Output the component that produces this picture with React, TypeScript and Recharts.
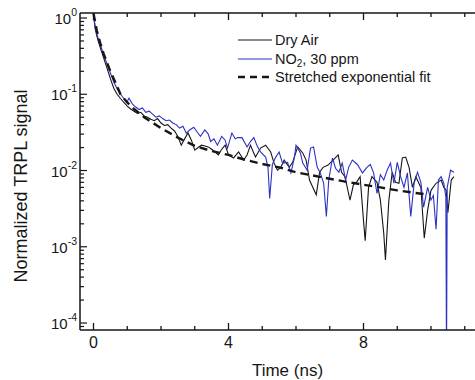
import React from 'react';
import { LineChart, Line, XAxis, YAxis, Legend, Label } from 'recharts';

const FONT = '"Liberation Sans", Arial, Helvetica, sans-serif';

// Dry Air (black), ns / normalized signal
const dryTime = [
    0, 0.05, 0.1, 0.15, 0.2, 0.3, 0.4, 0.5, 0.6, 0.7, 0.8, 0.9, 1.0, 1.1, 1.2, 1.3, 1.4, 1.5, 1.6, 1.7,
    1.8, 1.9, 2.0, 2.1, 2.2, 2.3, 2.4, 2.5, 2.6, 2.7, 2.8, 2.9, 3.0, 3.1, 3.2, 3.3, 3.4, 3.5, 3.6, 3.7,
    3.8, 3.9, 4.0, 4.15, 4.3, 4.45, 4.55, 4.65, 4.8, 4.95, 5.1, 5.25, 5.35, 5.45, 5.55, 5.65, 5.8, 5.9,
    6.05, 6.2, 6.3, 6.4, 6.5, 6.6, 6.7, 6.8, 6.95, 7.1, 7.25, 7.35, 7.45, 7.6, 7.7, 7.8, 7.9, 8.0, 8.05,
    8.15, 8.25, 8.4, 8.5, 8.6, 8.65, 8.75, 8.85, 8.95, 9.05, 9.15, 9.25, 9.35, 9.45, 9.55, 9.7, 9.8, 9.9,
    10.0, 10.15, 10.3, 10.38, 10.45, 10.5, 10.6, 10.68
];
const drySignal = [
    1.15, 0.72, 0.58, 0.48, 0.41, 0.3, 0.22, 0.16, 0.12, 0.1, 0.088, 0.078, 0.07, 0.064, 0.06, 0.056, 0.058, 0.052, 0.05, 0.047,
    0.045, 0.048, 0.042, 0.039, 0.04, 0.036, 0.033, 0.028, 0.0215, 0.026, 0.031, 0.025, 0.0185, 0.02, 0.0215, 0.021, 0.0204, 0.019, 0.0175, 0.016,
    0.019, 0.0215, 0.016, 0.0146, 0.0175, 0.0137, 0.016, 0.0215, 0.015, 0.0197, 0.0215, 0.0175, 0.0125, 0.0101, 0.011, 0.0137, 0.011, 0.0128,
    0.0204, 0.017, 0.0137, 0.0075, 0.006, 0.0048, 0.0095, 0.011, 0.0118, 0.0137, 0.016, 0.0095, 0.0083, 0.0041, 0.0065, 0.0071, 0.0083, 0.0022, 0.0012,
    0.006, 0.0083, 0.007, 0.0041, 0.0015, 0.00067, 0.004, 0.0095, 0.007, 0.0068, 0.0146, 0.015, 0.011, 0.006, 0.0083, 0.006, 0.0013, 0.003,
    0.0055, 0.0068, 0.0075, 0.006, 0.0055, 0.0028, 0.0075, 0.0083
];

// NO2, 30 ppm (blue)
const no2Time = [
    0, 0.05, 0.1, 0.15, 0.2, 0.3, 0.4, 0.5, 0.6, 0.7, 0.8, 0.9, 1.0, 1.05, 1.15, 1.25, 1.35, 1.45, 1.55, 1.65,
    1.75, 1.85, 1.95, 2.05, 2.15, 2.25, 2.35, 2.45, 2.55, 2.65, 2.75, 2.85, 2.97, 3.07, 3.17, 3.3, 3.4, 3.47,
    3.57, 3.67, 3.8, 3.9, 3.97, 4.1, 4.2, 4.27, 4.4, 4.55, 4.65, 4.75, 4.85, 4.95, 5.1, 5.17, 5.22, 5.3, 5.4,
    5.5, 5.6, 5.75, 5.85, 5.95, 6.0, 6.13, 6.2, 6.33, 6.43, 6.52, 6.63, 6.72, 6.82, 6.9, 6.97, 7.08, 7.17, 7.27,
    7.37, 7.47, 7.56, 7.67, 7.82, 7.97, 8.1, 8.2, 8.3, 8.4, 8.5, 8.6, 8.7, 8.8, 8.9, 9.0, 9.1, 9.2, 9.3, 9.4,
    9.5, 9.6, 9.7, 9.78, 9.9, 10.0, 10.07, 10.15, 10.22, 10.3, 10.38, 10.44, 10.46, 10.48, 10.58, 10.68
];
const no2Signal = [
    1.15, 0.75, 0.62, 0.52, 0.45, 0.33, 0.25, 0.19, 0.145, 0.118, 0.1, 0.088, 0.08, 0.089, 0.075, 0.068, 0.063, 0.066, 0.058, 0.06,
    0.055, 0.05, 0.052, 0.048, 0.045, 0.046, 0.042, 0.04, 0.036, 0.038, 0.031, 0.034, 0.037, 0.032, 0.028, 0.034, 0.03, 0.024,
    0.026, 0.0215, 0.028, 0.025, 0.0197, 0.031, 0.026, 0.027, 0.027, 0.0204, 0.024, 0.027, 0.021, 0.0175, 0.015, 0.011, 0.0043, 0.012, 0.015,
    0.0175, 0.0125, 0.0128, 0.0093, 0.0146, 0.0215, 0.017, 0.0125, 0.0101, 0.0197, 0.0204, 0.011, 0.0093, 0.0068, 0.0025, 0.0075, 0.0146, 0.0107, 0.0095,
    0.0125, 0.0075, 0.011, 0.0137, 0.012, 0.0093, 0.011, 0.012, 0.0093, 0.005, 0.0088, 0.0075, 0.0101, 0.0125, 0.0068, 0.0128, 0.0083, 0.006, 0.0093, 0.0025,
    0.0068, 0.0095, 0.007, 0.0033, 0.006, 0.0041, 0.0047, 0.0017, 0.0075, 0.0083, 0.0068, 0.0045, 0.00003, 0.006, 0.0101, 0.0095
];

// stretched exponential fit (dashed)
const fitTime = [0, 0.1, 0.2, 0.3, 0.4, 0.5, 0.6, 0.8, 1.0, 1.2, 1.5, 2.0, 2.5, 3.0, 3.5, 4.0, 4.5, 5.0, 5.5, 6.0, 6.5, 7.0, 7.5, 8.0, 8.5, 9.0, 9.5, 9.8];
const fitSignal = [1.15, 0.68, 0.47, 0.34, 0.26, 0.2, 0.16, 0.1, 0.078, 0.064, 0.05, 0.036, 0.027, 0.021, 0.018, 0.016, 0.0138, 0.0122, 0.011, 0.0095, 0.0086, 0.0078, 0.0071, 0.0065, 0.006, 0.0055, 0.0051, 0.0049];

const xTicks = [0, 1, 2, 3, 4, 5, 6, 7, 8, 9, 10, 11];
const xLabels = [0, 4, 8];
const yMajor = [1e-4, 1e-3, 1e-2, 1e-1, 1];
const yTicks = [9e-5];
yMajor.slice(0, 4).forEach((d) => {
    for (let k = 1; k <= 9; k++) yTicks.push(k * d);
});
yTicks.push(1);

const toPoints = (ts: number[], vs: number[]) => ts.map((t, i) => ({ t, v: vs[i] }));
const dryData = toPoints(dryTime, drySignal);
const no2Data = toPoints(no2Time, no2Signal);
const fitData = toPoints(fitTime, fitSignal);

const INK = '#161616';
const BLUE = '#2b32c4';

const BottomTick = (props: any) => {
    const { x, y, payload } = props;
    const major = xLabels.includes(payload.value);
    return (
        <g>
            <line x1={x} x2={x} y1={y} y2={y - (major ? 7 : 4)} stroke={INK} strokeWidth={1.3} />
            {major && (
                <text x={x} y={y + 18} textAnchor="middle" fontSize={16} fontFamily={FONT} fill={INK}>
                    {payload.value}
                </text>
            )}
        </g>
    );
};

const TopTick = (props: any) => {
    const { x, y, payload } = props;
    const major = xLabels.includes(payload.value);
    return <line x1={x} x2={x} y1={y} y2={y + (major ? 7 : 4)} stroke={INK} strokeWidth={1.3} />;
};

const LeftTick = (props: any) => {
    const { x, y, payload } = props;
    const lg = Math.log10(payload.value);
    const e = Math.round(lg);
    const major = Math.abs(lg - e) < 1e-6;
    return (
        <g>
            <line x1={x} x2={x + (major ? 7 : 4)} y1={y} y2={y} stroke={INK} strokeWidth={1.2} />
            {major && (
                <text x={x - 3} y={y + 6} textAnchor="end" fontSize={15} fontFamily={FONT} fill={INK}>
                    10
                    <tspan dy={-8} fontSize={10.5}>{e}</tspan>
                </text>
            )}
        </g>
    );
};

const legendItems = [
    { label: <>Dry Air</>, color: INK, dash: '', width: 1.2 },
    { label: <>NO<sub style={{ fontSize: 10, verticalAlign: '-3px', lineHeight: 0 }}>2</sub>, 30 ppm</>, color: BLUE, dash: '', width: 1.2 },
    { label: <>Stretched exponential fit</>, color: INK, dash: '7 5', width: 2.4 },
];

const renderLegend = () => (
    <div style={{ fontFamily: FONT, fontSize: 14.5, lineHeight: '18.5px', color: INK }}>
        {legendItems.map((it, i) => (
            <div key={i} style={{ display: 'flex', alignItems: 'center', whiteSpace: 'nowrap' }}>
                <svg width={37} height={18} style={{ flex: 'none' }}>
                    <line x1={0} x2={34} y1={9} y2={9} stroke={it.color} strokeWidth={it.width} strokeDasharray={it.dash} />
                </svg>
                <span>{it.label}</span>
            </div>
        ))}
    </div>
);

const YTitle = () => (
    <text x={27} y={186} transform="rotate(-90, 27, 186)" textAnchor="middle" fontSize={18} fontFamily={FONT} fill={INK}>
        Normalized TRPL signal
    </text>
);

export default function App() {
    return (
        <div style={{ position: 'absolute', left: 0, top: 0, width: 475, height: 380, overflow: 'hidden', background: '#fff' }}>
            <LineChart width={500} height={380} margin={{ top: 0, right: 15, bottom: 0, left: 0 }}>
                <XAxis
                    dataKey="t"
                    type="number"
                    domain={[-0.4, 11.6]}
                    ticks={xTicks}
                    interval={0}
                    allowDataOverflow
                    height={50}
                    tickSize={0}
                    tickMargin={0}
                    tick={BottomTick}
                    axisLine={{ stroke: INK, strokeWidth: 1.5 }}
                >
                    <Label value="Time (ns)" position="insideBottom" offset={4} dx={5} fontSize={17} fontFamily={FONT} fill={INK} />
                </XAxis>
                <XAxis
                    xAxisId="top"
                    orientation="top"
                    dataKey="t"
                    type="number"
                    domain={[-0.4, 11.6]}
                    ticks={xTicks}
                    interval={0}
                    allowDataOverflow
                    height={13}
                    tickSize={0}
                    tickMargin={0}
                    tick={TopTick}
                    axisLine={{ stroke: INK, strokeWidth: 1.5 }}
                />
                <YAxis
                    scale="log"
                    type="number"
                    domain={[8.1e-5, 1.163]}
                    ticks={yTicks}
                    interval={0}
                    allowDataOverflow
                    width={80}
                    tickSize={0}
                    tickMargin={0}
                    tick={LeftTick}
                    axisLine={{ stroke: INK, strokeWidth: 1.5 }}
                >
                    <Label content={<YTitle />} />
                </YAxis>
                <Legend
                    content={renderLegend}
                    layout="horizontal"
                    align="center"
                    verticalAlign="middle"
                    wrapperStyle={{ top: 31, left: 238, width: 'auto' }}
                />
                <Line data={dryData} dataKey="v" stroke={INK} strokeWidth={1.1} dot={false} isAnimationActive={false} />
                <Line data={no2Data} dataKey="v" stroke={BLUE} strokeWidth={1.1} dot={false} isAnimationActive={false} />
                <Line data={fitData} dataKey="v" stroke={INK} strokeWidth={2.4} strokeDasharray="8 5" dot={false} isAnimationActive={false} />
            </LineChart>
        </div>
    );
}
